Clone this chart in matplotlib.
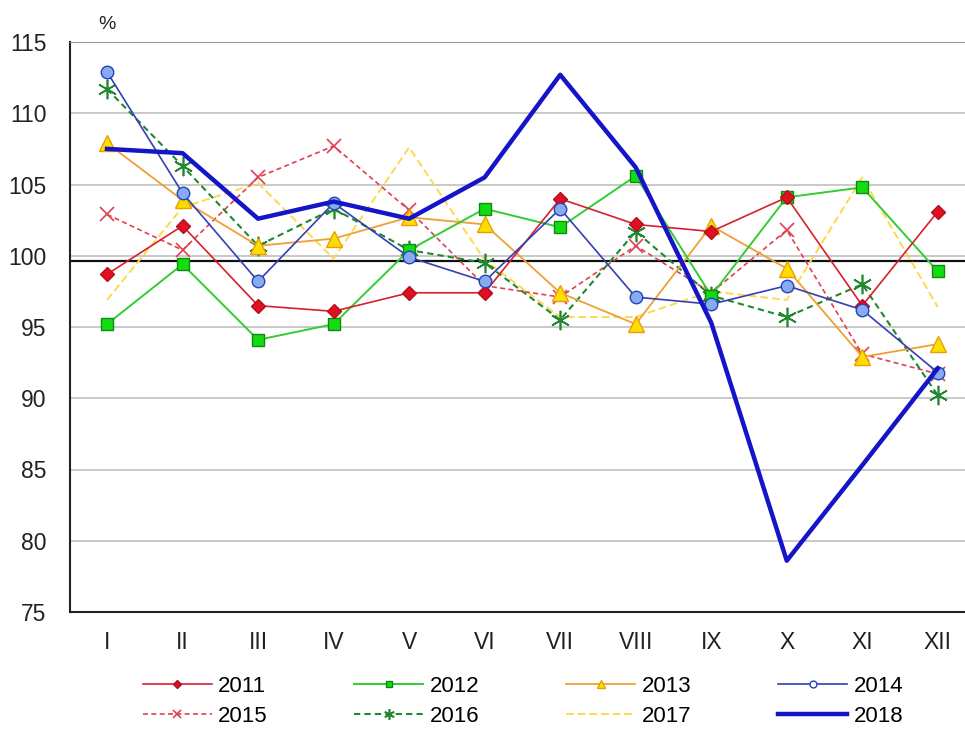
import matplotlib
matplotlib.use("Agg")
import matplotlib.pyplot as plt
from matplotlib.lines import Line2D

plt.rcParams['font.family'] = ['Liberation Sans', 'DejaVu Sans']

months = ['I', 'II', 'III', 'IV', 'V', 'VI', 'VII', 'VIII', 'IX', 'X', 'XI', 'XII']

y2011 = [98.7, 102.1, 96.5, 96.1, 97.4, 97.4, 104.0, 102.2, 101.7, 104.1, 96.5, 103.1]
y2012 = [95.2, 99.4, 94.1, 95.2, 100.4, 103.3, 102.0, 105.6, 97.2, 104.1, 104.8, 98.9]
y2013 = [107.9, 103.9, 100.7, 101.2, 102.7, 102.2, 97.4, 95.2, 102.1, 99.1, 92.9, 93.8]
y2014 = [112.9, 104.4, 98.2, 103.7, 99.9, 98.2, 103.3, 97.1, 96.6, 97.9, 96.2, 91.8]
y2015 = [102.9, 100.4, 105.5, 107.7, 103.2, 97.9, 97.1, 100.7, 97.4, 101.8, 93.1, 91.7]
y2016 = [111.7, 106.3, 100.7, 103.3, 100.4, 99.5, 95.5, 101.7, 97.2, 95.7, 98.0, 90.2]
y2017 = [96.9, 103.4, 105.1, 99.8, 107.6, 99.7, 95.7, 95.7, 97.5, 96.9, 105.5, 96.4]
y2018 = [107.5, 107.2, 102.6, 103.8, 102.6, 105.5, 112.7, 106.2, 95.3, 78.6, 85.3, 92.1]
base_line = 99.65

x = list(range(len(months)))

fig = plt.figure(figsize=(9.65, 7.31), dpi=100)
ax = fig.add_axes([70 / 965, 119 / 731, 895 / 965, 570 / 731])

# gridlines
for v in range(80, 115, 5):
    ax.axhline(v, color='#c0c0c0', lw=1.2, zorder=0)
ax.axhline(base_line, color='#111111', lw=1.6, zorder=1)

ast = (6, 2, 0)

styles = {
    '2011': dict(color='#d8202c', lw=1.2, ls='-', marker='D', ms=7, mfc='#e01020', mec='#b01020'),
    '2012': dict(color='#33cc33', lw=1.4, ls='-', marker='s', ms=9, mfc='#11dd11', mec='#118811'),
    '2013': dict(color='#eea035', lw=1.3, ls='-', marker='^', ms=11, mfc='#ffdd00', mec='#e8a000'),
    '2014': dict(color='#3340b0', lw=1.2, ls='-', marker='o', ms=9, mfc='#88aaee', mec='#2244bb'),
    '2015': dict(color='#e04050', lw=1.2, ls=(0, (3, 2)), marker='x', ms=10, mfc='none', mec='#e04050', mew=1.2),
    '2016': dict(color='#208830', lw=1.5, ls=(0, (3, 2)), marker=ast, ms=14, mec='#208830', mew=1.2),
    '2017': dict(color='#ffd84a', lw=1.4, ls=(0, (4, 2)), marker=None),
    '2018': dict(color='#1414c8', lw=3.2, ls='-', marker=None),
}
series = {'2011': y2011, '2012': y2012, '2013': y2013, '2014': y2014,
          '2015': y2015, '2016': y2016, '2017': y2017, '2018': y2018}
zorders = {'2017': 2, '2016': 3, '2015': 3, '2013': 4, '2012': 5, '2011': 6, '2014': 6, '2018': 7}

for name, vals in series.items():
    ax.plot(x, vals, zorder=zorders[name], **styles[name])

ax.set_xlim(-0.49, 11.36)
ax.set_ylim(75, 115)
ax.set_yticks(range(75, 116, 5))
ax.set_xticks(x)
ax.set_xticklabels(months)
ax.tick_params(axis='both', length=0, labelsize=16.5, colors='#222222')
ax.tick_params(axis='x', pad=14)
ax.tick_params(axis='y', pad=17)
ax.spines['right'].set_visible(False)
ax.spines['top'].set_color('#999999')
ax.spines['left'].set_color('#222222')
ax.spines['bottom'].set_color('#222222')
ax.spines['left'].set_linewidth(1.5)
ax.spines['bottom'].set_linewidth(1.5)

ax.text(0, 116.2, '%', ha='center', va='center', fontsize=14, color='#222222')

# legend with smaller markers, ordered for column-wise fill
order = ['2011', '2015', '2012', '2016', '2013', '2017', '2014', '2018']
handles = []
for name in order:
    st = dict(styles[name])
    if st.get('marker') is not None:
        st['ms'] = st['ms'] * 0.55
    if name == '2014':
        st['mfc'] = 'white'
    handles.append(Line2D([], [], **st))
fig.legend(handles, order, loc='upper center', bbox_to_anchor=(523 / 965, 1 - 665 / 731),
           ncol=4, frameon=False, fontsize=16, handlelength=3.1, handletextpad=0.3,
           columnspacing=3.9, labelspacing=0.4, borderpad=0)

fig.savefig('out.png', dpi=100)
